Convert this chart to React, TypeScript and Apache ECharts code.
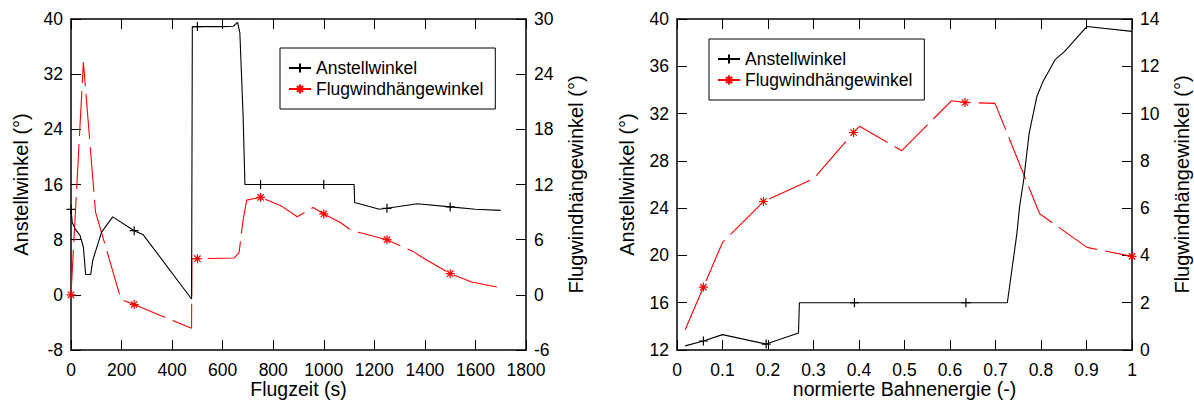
import React, { useEffect, useRef } from "react";
import * as echarts from "echarts";

// ---------- Left chart: Flugzeit (s) ----------
const leftAnstellT = [0, 5, 16, 36, 49, 58, 78, 86, 121, 165, 250, 286, 477, 480, 500, 600, 642, 659, 668, 681, 688, 750, 1000, 1120, 1122, 1220, 1250, 1370, 1500, 1600, 1700];
const leftAnstellV = [12.4, 10.5, 9.6, 8.6, 6.9, 2.95, 2.95, 5.0, 9.1, 11.3, 9.3, 8.7, -0.6, 38.9, 38.9, 38.9, 38.95, 39.5, 38.0, 25.8, 16, 16, 16, 16, 13.4, 12.4, 12.55, 13.2, 12.75, 12.4, 12.25];
const leftAnstellMarks = [0, 250, 500, 750, 1000, 1250, 1500];

const leftFlugT = [0, 49, 97, 198, 250, 477, 478, 500, 645, 665, 680, 695, 750, 830, 895, 958, 1000, 1064, 1104, 1137, 1250, 1354, 1400, 1500, 1585, 1700];
const leftFlugV = [0, 25.3, 9.0, -0.5, -1.06, -3.64, 3.93, 3.93, 4.0, 4.6, 8.0, 10.3, 10.6, 9.7, 8.5, 9.5, 8.8, 7.9, 7.1, 6.8, 6.0, 4.7, 3.9, 2.3, 1.4, 0.76];
const leftFlugMarks = [0, 250, 500, 750, 1000, 1250, 1500];

// ---------- Right chart: normierte Bahnenergie (-) ----------
const rightAnstellE = [0.018, 0.058, 0.1, 0.196, 0.267, 0.269, 0.39, 0.635, 0.726, 0.747, 0.753, 0.762, 0.774, 0.791, 0.803, 0.831, 0.852, 0.901, 1.0];
const rightAnstellV = [12.35, 12.76, 13.3, 12.5, 13.44, 16.0, 16, 16, 16, 21.85, 24.15, 26.4, 30.35, 33.45, 34.6, 36.56, 37.26, 39.37, 38.95];
const rightAnstellMarks = [0.058, 0.196, 0.39, 0.635];

const rightFlugE = [0.018, 0.058, 0.1, 0.19, 0.3, 0.388, 0.401, 0.494, 0.603, 0.633, 0.699, 0.797, 0.901, 1.0];
const rightFlugV = [0.86, 2.66, 4.55, 6.28, 7.24, 9.2, 9.46, 8.43, 10.54, 10.47, 10.43, 5.76, 4.34, 3.96];
const rightFlugMarks = [0.058, 0.19, 0.388, 0.633, 1.0];

const seriesNames = ["Anstellwinkel", "Flugwindhängewinkel"];

const FONT = "Liberation Sans, Arial, Helvetica, sans-serif";
const PLUS = "path://M0,5L10,5M5,0L5,10";
const STAR = "path://M0,5L10,5M5,0L5,10M1.5,1.5L8.5,8.5M1.5,8.5L8.5,1.5";

function build(xs: number[], ys: number[], marks: number[], sym: string) {
  return xs.map((x, i) => ({ value: [x, ys[i]], symbol: marks.includes(x) ? sym : "none" }));
}

const fmt = (v: number) => String(Math.round(v * 1e6) / 1e6);
const axisLine = { show: true, onZero: false, lineStyle: { color: "#000", width: 1.5 } };
const axisTick = { show: true, inside: true, length: 10, lineStyle: { color: "#000", width: 1 } };
const axisLabel = { color: "#000", fontSize: 17.5, fontFamily: FONT, formatter: fmt };
const nameText = { color: "#000", fontSize: 20, fontFamily: FONT };

function xBottom(grid: number, min: number, max: number, interval: number, name: string) {
  return {
    type: "value", gridIndex: grid, position: "bottom", min, max, interval,
    axisLine, axisTick, axisLabel: { ...axisLabel, margin: 11 }, splitLine: { show: false },
    name, nameLocation: "middle", nameGap: 29, nameMoveOverlap: false,
    nameTextStyle: { ...nameText, fontSize: 19.5 },
  };
}
function xTop(grid: number, min: number, max: number, interval: number) {
  return {
    type: "value", gridIndex: grid, position: "top", min, max, interval,
    axisLine, axisTick, axisLabel: { show: false }, splitLine: { show: false },
  };
}
function yAxis(grid: number, pos: string, min: number, max: number, interval: number, name: string) {
  return {
    type: "value", gridIndex: grid, position: pos, min, max, interval,
    axisLine, axisTick, axisLabel: { ...axisLabel, margin: 8 }, splitLine: { show: false },
    name, nameLocation: "middle", nameGap: 40, nameMoveOverlap: false, nameTextStyle: nameText,
  };
}

function blackSeries(xi: number, yi: number, data: any[]) {
  return {
    name: seriesNames[0], type: "line", xAxisIndex: xi, yAxisIndex: yi, data,
    symbol: PLUS, symbolSize: 9, showSymbol: true, silent: true,
    lineStyle: { color: "#000", width: 1.1 },
    itemStyle: { color: "#000", borderColor: "#000", borderWidth: 1.2 },
    emphasis: { disabled: true }, z: 3,
  };
}
function redSeries(xi: number, yi: number, data: any[]) {
  return {
    name: seriesNames[1], type: "line", xAxisIndex: xi, yAxisIndex: yi, data,
    symbol: STAR, symbolSize: 9, showSymbol: true, silent: true,
    lineStyle: { color: "#ff0000", width: 1.1, type: [45, 8] },
    itemStyle: { color: "#ff0000", borderColor: "#ff0000", borderWidth: 1.2 },
    emphasis: { disabled: true }, z: 2,
  };
}

function legend(left: number, top: number) {
  return {
    data: seriesNames, left, top, orient: "vertical", selectedMode: false,
    padding: [11, 12, 11, 8], itemGap: 3, itemWidth: 22, itemHeight: 11,
    backgroundColor: "#fff", borderColor: "#000", borderWidth: 1,
    textStyle: { color: "#000", fontSize: 17.5, fontFamily: FONT },
  };
}

export default function App() {
  const ref = useRef<HTMLDivElement>(null);
  useEffect(() => {
    if (!ref.current) return;
    const chart = echarts.init(ref.current, undefined, { renderer: "svg" });
    chart.setOption({
      animation: false,
      backgroundColor: "#fff",
      textStyle: { fontFamily: FONT },
      grid: [
        { left: 71, top: 19, width: 455, height: 331, outerBoundsMode: "none", containLabel: false },
        { left: 677, top: 19, width: 455, height: 331, outerBoundsMode: "none", containLabel: false },
      ],
      xAxis: [
        xBottom(0, 0, 1800, 200, "Flugzeit (s)"),
        xTop(0, 0, 1800, 200),
        xBottom(1, 0, 1, 0.1, "normierte Bahnenergie (-)"),
        xTop(1, 0, 1, 0.1),
      ],
      yAxis: [
        yAxis(0, "left", -8, 40, 8, "Anstellwinkel (°)"),
        yAxis(0, "right", -6, 30, 6, "Flugwindhängewinkel (°)"),
        yAxis(1, "left", 12, 40, 4, "Anstellwinkel (°)"),
        yAxis(1, "right", 0, 14, 2, "Flugwindhängewinkel (°)"),
      ],
      legend: [legend(280, 48), legend(709, 39)],
      series: [
        blackSeries(0, 0, build(leftAnstellT, leftAnstellV, leftAnstellMarks, PLUS)),
        redSeries(0, 1, build(leftFlugT, leftFlugV, leftFlugMarks, STAR)),
        blackSeries(2, 2, build(rightAnstellE, rightAnstellV, rightAnstellMarks, PLUS)),
        redSeries(2, 3, build(rightFlugE, rightFlugV, rightFlugMarks, STAR)),
      ],
    });
    return () => chart.dispose();
  }, []);
  return (
    <div
      ref={ref}
      style={{ position: "absolute", left: 0, top: 0, width: 1194, height: 403, background: "#fff" }}
    />
  );
}
